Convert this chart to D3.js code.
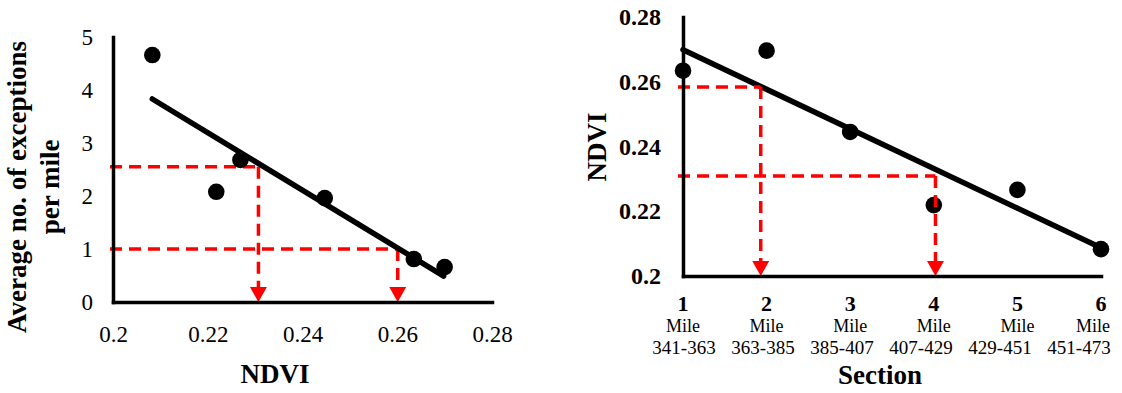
<!DOCTYPE html>
<html><head><meta charset="utf-8">
<script src="https://cdn.jsdelivr.net/npm/d3@7"></script>
<style>
body{margin:0;background:#fff}
svg{display:block}
text{font-family:"Liberation Serif","Times New Roman",serif;fill:#000}
</style>
</head><body>
<svg id="c" width="1122" height="393"></svg>
<script>
// ---- Left chart data ----
const ndvi = [0.2083, 0.2218, 0.2269, 0.2447, 0.2635, 0.2700];
const exceptions = [4.66, 2.08, 2.68, 1.96, 0.81, 0.66];
const leftTrendX = [0.2083, 0.2698];
const leftTrendY = [3.83, 0.49];
const leftGuideY = [2.55, 1.0];
const leftGuideX = [0.2307, 0.2601];
const leftXTicks = [0.2, 0.22, 0.24, 0.26, 0.28];
const leftXTickLabels = ["0.2", "0.22", "0.24", "0.26", "0.28"];
const leftYTicks = [0, 1, 2, 3, 4, 5];
const leftYTitle = ["Average no. of exceptions", "per mile"];
const leftXTitle = "NDVI";

// ---- Right chart data ----
const sections = [1, 2, 3, 4, 5, 6];
const mileLabel = "Mile";
const mileRanges = ["341-363", "363-385", "385-407", "407-429", "429-451", "451-473"];
const sectionNdvi = [0.2634, 0.2696, 0.2445, 0.2219, 0.2266, 0.2083];
const rightTrendX = [1, 6];
const rightTrendY = [0.2699, 0.2087];
const rightGuideY = [0.2584, 0.2309];
const rightGuideX = [1.93, 4.02];
const rightYTicks = [0.2, 0.22, 0.24, 0.26, 0.28];
const rightYTickLabels = ["0.2", "0.22", "0.24", "0.26", "0.28"];
const rightYTitle = "NDVI";
const rightXTitle = "Section";

const svg = d3.select("#c");
const RED = "#ff0000";
const W = 1122;

function styleAxis(g, fontSize, weight) {
  g.select(".domain").attr("stroke", "#000").attr("stroke-width", 3.5).attr("stroke-linecap", "square");
  g.selectAll(".tick line").remove();
  g.selectAll("text").attr("font-family", '"Liberation Serif","Times New Roman",serif')
    .attr("font-size", fontSize).attr("font-weight", weight).attr("fill", "#000");
}

function arrow(g, x, yTip) {
  g.append("path")
    .attr("d", `M${x},${yTip}L${x - 8.5},${yTip - 15}L${x + 8.5},${yTip - 15}Z`)
    .attr("fill", RED);
}

// ===== Left chart =====
const xL = d3.scaleLinear().domain([0.2, 0.28]).range([113, 492]);
const yL = d3.scaleLinear().domain([0, 5]).range([302, 37]);
const gl = svg.append("g");

// guides
const guideL = gl.append("g");
leftGuideY.forEach((gy, i) => {
  const gx = leftGuideX[i];
  guideL.append("line").attr("x1", xL.range()[0] - 3).attr("x2", xL(gx))
    .attr("y1", yL(gy)).attr("y2", yL(gy))
    .attr("stroke", RED).attr("stroke-width", 3.5).attr("stroke-dasharray", "12,7");
  guideL.append("line").attr("x1", xL(gx)).attr("x2", xL(gx))
    .attr("y1", yL(gy)).attr("y2", yL(0) - 14)
    .attr("stroke", RED).attr("stroke-width", 3.5).attr("stroke-dasharray", "12,7");
  arrow(guideL, xL(gx), yL(0));
});

// trend
gl.append("line")
  .attr("x1", xL(leftTrendX[0])).attr("y1", yL(leftTrendY[0]))
  .attr("x2", xL(leftTrendX[1])).attr("y2", yL(leftTrendY[1]))
  .attr("stroke", "#000").attr("stroke-width", 5.5).attr("stroke-linecap", "round");

// points
gl.selectAll("circle.p").data(ndvi).join("circle")
  .attr("cx", d => xL(d)).attr("cy", (d, i) => yL(exceptions[i])).attr("r", 8.3).attr("fill", "#000");

// axes
const axL = gl.append("g").attr("transform", `translate(0,${yL(0)})`)
  .call(d3.axisBottom(xL).tickValues(leftXTicks).tickFormat((d, i) => leftXTickLabels[i])
    .tickSize(0).tickSizeOuter(0).tickPadding(24));
styleAxis(axL, 23, "normal");
const ayL = gl.append("g").attr("transform", `translate(${xL(0.2)},0)`)
  .call(d3.axisLeft(yL).tickValues(leftYTicks).tickFormat(d3.format("d"))
    .tickSize(0).tickSizeOuter(0).tickPadding(20));
styleAxis(ayL, 23, "normal");

// titles
gl.append("text").attr("x", 275).attr("y", 383).attr("text-anchor", "middle")
  .attr("font-size", 27).attr("font-weight", "bold").text(leftXTitle);
leftYTitle.forEach((t, i) => {
  gl.append("text").attr("transform", `translate(${[26, 59][i]},187) rotate(-90)`)
    .attr("text-anchor", "middle").attr("font-size", 27).attr("font-weight", "bold").text(t);
});

// ===== Right chart =====
const xR = d3.scaleLinear().domain([1, 6]).range([683, 1101]);
const yR = d3.scaleLinear().domain([0.2, 0.28]).range([276, 17]);
const gr = svg.append("g");

// trend
gr.append("line")
  .attr("x1", xR(rightTrendX[0])).attr("y1", yR(rightTrendY[0]))
  .attr("x2", xR(rightTrendX[1])).attr("y2", yR(rightTrendY[1]))
  .attr("stroke", "#000").attr("stroke-width", 5.5).attr("stroke-linecap", "round");

// points
gr.selectAll("circle.p").data(sectionNdvi).join("circle")
  .attr("cx", (d, i) => xR(sections[i])).attr("cy", d => yR(d)).attr("r", 8.3).attr("fill", "#000");

// guides
const guideR = gr.append("g");
rightGuideY.forEach((gy, i) => {
  const gx = rightGuideX[i];
  guideR.append("line").attr("x1", xR.range()[0] - 5).attr("x2", xR(gx))
    .attr("y1", yR(gy)).attr("y2", yR(gy))
    .attr("stroke", RED).attr("stroke-width", 3.5).attr("stroke-dasharray", "12,7");
  guideR.append("line").attr("x1", xR(gx)).attr("x2", xR(gx))
    .attr("y1", yR(gy)).attr("y2", yR(0.2) - 14)
    .attr("stroke", RED).attr("stroke-width", 3.5).attr("stroke-dasharray", "12,7");
  arrow(guideR, xR(gx), yR(0.2));
});

// axes
const axR = gr.append("g").attr("transform", `translate(0,${yR(0.2)})`)
  .call(d3.axisBottom(xR).tickValues(sections).tickFormat("").tickSize(0).tickSizeOuter(0));
styleAxis(axR, 22, "bold");
const ayR = gr.append("g").attr("transform", `translate(${xR(1)},0)`)
  .call(d3.axisLeft(yR).tickValues(rightYTicks).tickFormat((d, i) => rightYTickLabels[i])
    .tickSize(0).tickSizeOuter(0).tickPadding(22));
styleAxis(ayR, 24, "bold");

// category labels: the mile-range row is laid out as a slightly tighter text row
const xRange = d3.scaleLinear().domain([1, 6]).range([684, 1079]);
const labels = gr.append("g");
labels.selectAll("text.num").data(sections).join("text").attr("class", "num")
  .attr("x", d => xR(d)).attr("y", 311).attr("text-anchor", "middle")
  .attr("font-size", 22).attr("font-weight", "bold").text(d => d);
labels.selectAll("text.mile").data(sections).join("text").attr("class", "mile")
  .attr("x", d => Math.min(xR(d), W - 29)).attr("y", 332).attr("text-anchor", "middle")
  .attr("font-size", 18).text(mileLabel);
labels.selectAll("text.rng").data(sections).join("text").attr("class", "rng")
  .attr("x", d => xRange(d)).attr("y", 354).attr("text-anchor", "middle")
  .attr("font-size", 19).text((d, i) => mileRanges[i]);

gr.append("text").attr("x", 880).attr("y", 384).attr("text-anchor", "middle")
  .attr("font-size", 27).attr("font-weight", "bold").text(rightXTitle);
gr.append("text").attr("transform", "translate(606,147) rotate(-90)")
  .attr("text-anchor", "middle").attr("font-size", 27).attr("font-weight", "bold").text(rightYTitle);
</script>
</body></html>
